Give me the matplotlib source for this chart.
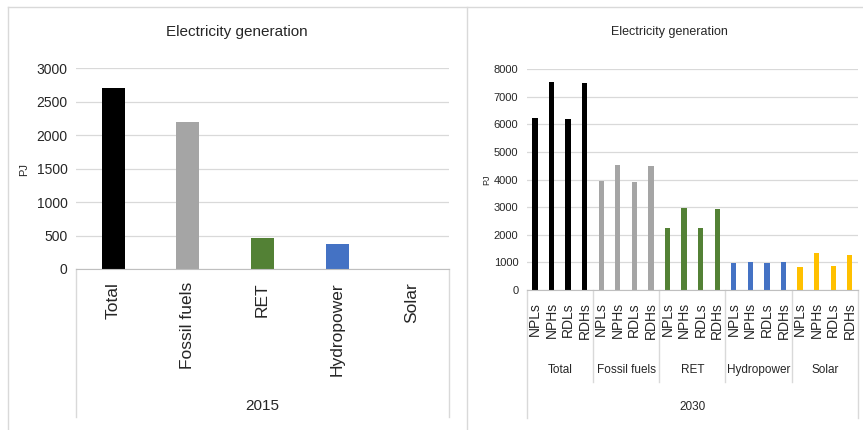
import numpy as np
import matplotlib.pyplot as plt
from matplotlib import transforms
from matplotlib.lines import Line2D

# electricity generation, PJ
categories = ["Total", "Fossil fuels", "RET", "Hydropower", "Solar"]
values_2015 = [2700, 2190, 460, 380, 2]

scenarios = ["NPLs", "NPHs", "RDLs", "RDHs"]
total_2030 = [6250, 7530, 6200, 7500]
fossil_2030 = [3950, 4530, 3920, 4500]
ret_2030 = [2240, 2970, 2240, 2940]
hydro_2030 = [980, 1030, 980, 1030]
solar_2030 = [850, 1330, 870, 1280]

colors = ["#000000", "#a5a5a5", "#538135", "#4472c4", "#ffc000"]

FONT = ["Liberation Sans", "DejaVu Sans"]
GRID = "#d9d9d9"
EDGE = "#d9d9d9"
INK = "#262626"

W, H = 863, 430


def fx(px):
    return px / W


def fy(py):
    return 1 - py / H


def fig_line(fig, x0, y0, x1, y1):
    fig.add_artist(Line2D([fx(x0), fx(x1)], [fy(y0), fy(y1)],
                          transform=fig.transFigure, color=EDGE, lw=1.0))


def style_axes(ax, ymax, step, tick_size):
    ax.set_ylim(0, ymax)
    ax.set_yticks(np.arange(0, ymax + 1, step))
    ax.grid(axis="y", color=GRID, lw=0.9)
    ax.set_axisbelow(True)
    for s in ["top", "right", "left"]:
        ax.spines[s].set_visible(False)
    ax.spines["bottom"].set_color("#bfbfbf")
    ax.tick_params(length=0, pad=6)
    ax.set_xticks([])
    for lab in ax.get_yticklabels():
        lab.set_fontfamily(FONT)
        lab.set_fontsize(tick_size)
        lab.set_color(INK)


fig = plt.figure(figsize=(8.63, 4.30), dpi=100)

# panel frames
fig_line(fig, 8, 7, 863, 7)
fig_line(fig, 8, 7, 8, 430)
fig_line(fig, 467, 7, 467, 430)

# ---- 2015 panel ----
ax1 = fig.add_axes([fx(76), fy(269), fx(449) - fx(76), fy(68.3) - fy(269)])
x1 = np.arange(len(categories))
ax1.bar(x1, values_2015, width=0.31, color=colors)
ax1.set_xlim(-0.5, len(categories) - 0.5)
style_axes(ax1, 3000, 500, 10)

tr1 = transforms.blended_transform_factory(ax1.transData, fig.transFigure)
for xi, name in zip(x1, categories):
    ax1.text(xi, fy(282), name, rotation=90, ha="center", va="top",
             fontsize=12.5, family=FONT, color=INK, transform=tr1)
for xb in [-0.5, len(categories) - 0.5]:
    ax1.plot([xb, xb], [fy(269), fy(417)], color=EDGE, lw=1.0,
             transform=tr1, clip_on=False)
ax1.text(np.mean(x1), fy(406), "2015", ha="center", va="center",
         fontsize=11, family=FONT, color=INK, transform=tr1)
fig.text(fx(237), fy(32), "Electricity generation", ha="center", va="center",
         fontsize=11, family=FONT, color=INK)
fig.text(fx(24), fy(170), "PJ", rotation=90, ha="center", va="center",
         fontsize=8, family=FONT, color=INK)

# ---- 2030 panel ----
groups_2030 = [total_2030, fossil_2030, ret_2030, hydro_2030, solar_2030]
ax2 = fig.add_axes([fx(526.7), fy(290), fx(858) - fx(526.7), fy(69.3) - fy(290)])
n = len(scenarios)
for g, (vals, col) in enumerate(zip(groups_2030, colors)):
    xs = np.arange(n) + g * n
    ax2.bar(xs, vals, width=0.32, color=col)
ax2.set_xlim(-0.5, n * len(categories) - 0.5)
style_axes(ax2, 8000, 1000, 8)

tr2 = transforms.blended_transform_factory(ax2.transData, fig.transFigure)
for g, name in enumerate(categories):
    for i, sc in enumerate(scenarios):
        ax2.text(g * n + i, fy(302), sc, rotation=90, ha="center", va="top",
                 fontsize=10, family=FONT, color=INK, transform=tr2)
    ax2.text(g * n + (n - 1) / 2, fy(370), name, ha="center", va="center",
             fontsize=8.5, family=FONT, color=INK, transform=tr2)
for g in range(1, len(categories)):
    xb = g * n - 0.5
    ax2.plot([xb, xb], [fy(290), fy(382)], color=EDGE, lw=1.0,
             transform=tr2, clip_on=False)
for xb in [-0.5, n * len(categories) - 0.5]:
    ax2.plot([xb, xb], [fy(290), fy(418)], color=EDGE, lw=1.0,
             transform=tr2, clip_on=False)
ax2.text((n * len(categories) - 1) / 2, fy(407), "2030", ha="center",
         va="center", fontsize=8.5, family=FONT, color=INK, transform=tr2)
fig.text(fx(669), fy(32), "Electricity generation", ha="center", va="center",
         fontsize=9, family=FONT, color=INK)
fig.text(fx(487), fy(180), "PJ", rotation=90, ha="center", va="center",
         fontsize=6.5, family=FONT, color=INK)

fig.savefig("out.png", dpi=100)
